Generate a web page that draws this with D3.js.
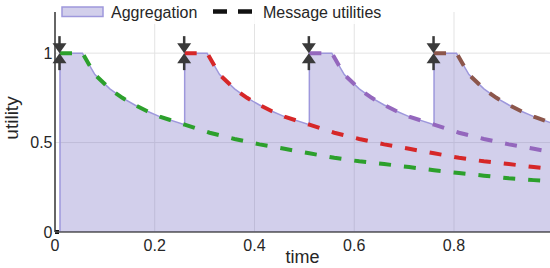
<!DOCTYPE html>
<html>
<head>
<meta charset="utf-8">
<script src="https://cdn.jsdelivr.net/npm/d3@7"></script>
<style>
  body { margin: 0; background: #fff; }
  svg { font-family: "Liberation Sans", Arial, sans-serif; }
</style>
</head>
<body>
<svg id="chart" width="550" height="268"></svg>
<script>
// message utilities: [time, utility]
const greenMsg = [
  [0.01, 1], [0.055, 1], [0.08, 0.88], [0.11, 0.80], [0.135, 0.75], [0.16, 0.71],
  [0.185, 0.675], [0.21, 0.645], [0.26, 0.60], [0.31, 0.555], [0.36, 0.52], [0.41, 0.49],
  [0.46, 0.465], [0.51, 0.44], [0.56, 0.415], [0.61, 0.395], [0.66, 0.38], [0.71, 0.363],
  [0.76, 0.345], [0.81, 0.33], [0.86, 0.315], [0.91, 0.30], [0.96, 0.29], [1.0, 0.282]
];
const redMsg = [
  [0.26, 1], [0.305, 1], [0.33, 0.88], [0.36, 0.80], [0.385, 0.75], [0.41, 0.71],
  [0.435, 0.675], [0.46, 0.645], [0.51, 0.60], [0.56, 0.555], [0.61, 0.52], [0.66, 0.49],
  [0.71, 0.465], [0.76, 0.44], [0.81, 0.415], [0.86, 0.395], [0.91, 0.38], [0.96, 0.363],
  [1.0, 0.35]
];
const purpleMsg = [
  [0.51, 1], [0.555, 1], [0.58, 0.88], [0.61, 0.80], [0.635, 0.75], [0.66, 0.71],
  [0.685, 0.675], [0.71, 0.645], [0.76, 0.60], [0.81, 0.555], [0.86, 0.52], [0.91, 0.49],
  [0.96, 0.465], [1.0, 0.445]
];
const brownMsg = [
  [0.76, 1], [0.805, 1], [0.83, 0.88], [0.86, 0.80], [0.885, 0.75], [0.91, 0.71],
  [0.935, 0.675], [0.96, 0.645], [1.0, 0.605]
];
const originMark = [[0, 0], [0.008, 0]];
const messageStarts = [0.01, 0.26, 0.51, 0.76];
const xTicks = [0, 0.2, 0.4, 0.6, 0.8];
const yTicks = [0, 0.5, 1];
const xMax = 0.9925;
const yMax = 1.23;

const series = [
  { data: greenMsg, color: '#2ca02c' },
  { data: redMsg, color: '#d62728' },
  { data: purpleMsg, color: '#9467bd' },
  { data: brownMsg, color: '#8c564b' },
];

// aggregation = newest message's curve until the next message arrives
const aggregation = [];
series.forEach((s, i) => {
  const next = messageStarts[i + 1];
  s.data.forEach(d => { if (next === undefined || d[0] <= next) aggregation.push(d); });
});

const svg = d3.select('#chart');
const padLeft = 55, padRight = 550, padTop = 12, padBottom = 232;

const x = d3.scaleLinear().domain([0, xMax]).range([padLeft, padRight]);
const y = d3.scaleLinear().domain([0, yMax]).range([padBottom, padTop]);

svg.append('defs').append('clipPath').attr('id', 'plot')
  .append('rect').attr('x', padLeft).attr('y', padTop - 5)
  .attr('width', padRight - padLeft).attr('height', padBottom - padTop + 5);

// grid
svg.append('g').selectAll('line').data(xTicks.slice(1)).join('line')
  .attr('x1', d => x(d)).attr('x2', d => x(d)).attr('y1', padTop).attr('y2', padBottom)
  .attr('stroke', '#e3e3e3').attr('stroke-width', 1);
svg.append('g').selectAll('line').data(yTicks.slice(1)).join('line')
  .attr('x1', padLeft).attr('x2', padRight).attr('y1', d => y(d)).attr('y2', d => y(d))
  .attr('stroke', '#e3e3e3').attr('stroke-width', 1);

const plot = svg.append('g').attr('clip-path', 'url(#plot)');

const area = d3.area().x(d => x(d[0])).y0(y(0)).y1(d => y(d[1]));
const line = d3.line().x(d => x(d[0])).y(d => y(d[1]));

plot.append('path')
  .attr('d', area(aggregation))
  .attr('fill', '#7b72c4').attr('fill-opacity', 0.34)
  .attr('stroke', '#9e98dc').attr('stroke-width', 1.5);

plot.selectAll('path.msg').data(series).join('path')
  .attr('class', 'msg')
  .attr('d', d => line(d.data))
  .attr('fill', 'none')
  .attr('stroke', d => d.color)
  .attr('stroke-width', 4)
  .attr('stroke-dasharray', '12,13');

svg.append('path').attr('d', line(originMark))
  .attr('stroke', '#111').attr('stroke-width', 4).attr('fill', 'none');

// axes spines
svg.append('line').attr('x1', padLeft).attr('x2', padLeft).attr('y1', padTop).attr('y2', padBottom)
  .attr('stroke', '#333').attr('stroke-width', 1.5);
svg.append('line').attr('x1', padLeft).attr('x2', padRight).attr('y1', padBottom).attr('y2', padBottom)
  .attr('stroke', '#555').attr('stroke-width', 1.5);

// tick labels
svg.append('g').selectAll('text').data(xTicks).join('text')
  .attr('x', d => x(d)).attr('y', 251)
  .attr('text-anchor', 'middle').attr('font-size', 16).attr('fill', '#262626')
  .text(d => d3.format('')(d));
svg.append('g').selectAll('text').data(yTicks).join('text')
  .attr('x', padLeft - 2.5).attr('y', d => y(d) + 5.5)
  .attr('text-anchor', 'end').attr('font-size', 16).attr('fill', '#262626')
  .text(d => d3.format('')(d));

svg.append('text').attr('x', (padLeft + padRight) / 2).attr('y', 263)
  .attr('text-anchor', 'middle').attr('font-size', 18).attr('fill', '#262626').text('time');
svg.append('text').attr('transform', 'translate(18,' + 118 + ') rotate(-90)')
  .attr('text-anchor', 'middle').attr('font-size', 19).attr('fill', '#262626').text('utility');

// arrows marking message arrival
const arrows = svg.append('g').attr('fill', '#3a3a3a').attr('stroke', '#3a3a3a');
messageStarts.forEach(t => {
  const cx = x(t) - 0.5, cy = y(1);
  arrows.append('line').attr('x1', cx).attr('x2', cx).attr('y1', cy - 17).attr('y2', cy - 9).attr('stroke-width', 2.5);
  arrows.append('path').attr('d', `M${cx - 7},${cy - 10}L${cx + 7},${cy - 10}L${cx},${cy}Z`).attr('stroke', 'none');
  arrows.append('line').attr('x1', cx).attr('x2', cx).attr('y1', cy + 9).attr('y2', cy + 17).attr('stroke-width', 2.5);
  arrows.append('path').attr('d', `M${cx - 7},${cy + 10}L${cx + 7},${cy + 10}L${cx},${cy}Z`).attr('stroke', 'none');
});

// legend
const legend = svg.append('g');
legend.append('rect').attr('x', 57).attr('y', 0).attr('width', 338).attr('height', 24)
  .attr('rx', 3).attr('fill', '#fff').attr('fill-opacity', 0.85);
legend.append('rect').attr('x', 62).attr('y', 7).attr('width', 41).attr('height', 9.5)
  .attr('fill', '#7b72c4').attr('fill-opacity', 0.34)
  .attr('stroke', '#9e98dc').attr('stroke-width', 1.5);
legend.append('text').attr('x', 111).attr('y', 18).attr('font-size', 16).attr('fill', '#262626').text('Aggregation');
legend.append('line').attr('x1', 213).attr('x2', 253).attr('y1', 11.5).attr('y2', 11.5)
  .attr('stroke', '#111').attr('stroke-width', 4.5).attr('stroke-dasharray', '14,11');
legend.append('text').attr('x', 263).attr('y', 18).attr('font-size', 16).attr('fill', '#262626').text('Message utilities');
</script>
</body>
</html>
